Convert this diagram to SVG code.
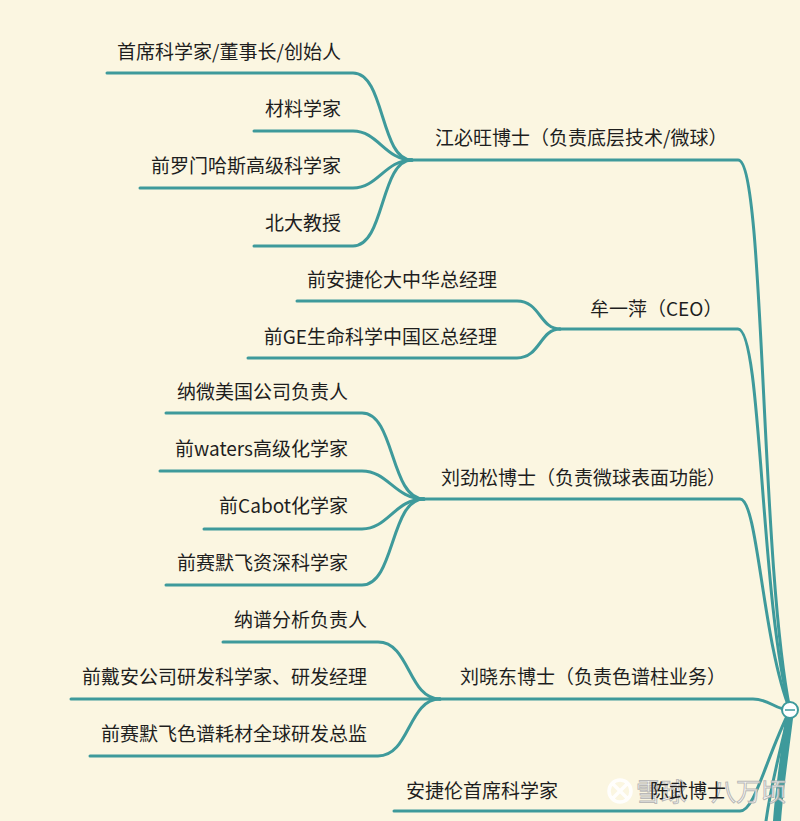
<svg xmlns="http://www.w3.org/2000/svg" width="800" height="821" viewBox="0 0 800 821">
<style>
  .bg{fill:#FBF6E1}
  .ln{fill:none;stroke:#3E9A9B;stroke-width:3;stroke-linecap:round}
  .t{font-family:"Noto Sans CJK SC","Noto Sans",sans-serif;font-size:19px;fill:#1e1e1e}
  .e{text-anchor:end}
  .wm{font-family:"Noto Sans CJK SC",sans-serif;font-size:25px;fill:#ffffff;fill-opacity:0.85;stroke:#a8a8a8;stroke-width:1;stroke-opacity:0.8}
</style>
<rect class="bg" x="0" y="0" width="800" height="821"/>
<g id="connectors">
  <path class="ln" d="M107,73 H353 C385,73 380,160 412,160"/>
  <path class="ln" d="M254,131 H353 C378,131 385,160 412,160"/>
  <path class="ln" d="M140,188 H353 C378,188 385,160 412,160"/>
  <path class="ln" d="M254,246 H353 C385,246 380,160 412,160"/>
  <path class="ln" d="M412,160 H738 C765,160 760,560 790,710"/>
  <path class="ln" d="M297,301 H517 C540,301 540,329 560,329"/>
  <path class="ln" d="M248,358 H517 C540,358 540,329 560,329"/>
  <path class="ln" d="M560,329 H738 C762,329 760,600 790,710"/>
  <path class="ln" d="M166,413 H362 C395,413 390,499 424,499"/>
  <path class="ln" d="M160,471 H362 C388,471 395,499 424,499"/>
  <path class="ln" d="M204,529 H362 C388,529 395,499 424,499"/>
  <path class="ln" d="M166,585 H362 C395,585 390,499 424,499"/>
  <path class="ln" d="M424,499 H740 C758,499 762,640 790,710"/>
  <path class="ln" d="M223,642 H378 C410,642 408,699 440,699"/>
  <path class="ln" d="M71,699 H440"/>
  <path class="ln" d="M90,756 H378 C410,756 408,699 440,699"/>
  <path class="ln" d="M440,699 H753 C770,699 775,710 790,710"/>
  <path class="ln" d="M394,811 H740 C755,811 765,760 790,710"/>
  <path class="ln" d="M790,710 C781,745 771,785 766,821"/>
  <path class="ln" style="stroke-width:8" d="M790,710 C786,745 779,790 777,821"/>
</g>
<g id="root">
  <circle cx="790" cy="710" r="8" fill="#ffffff" stroke="#3E9A9B" stroke-width="2"/>
  <line x1="785" y1="710" x2="795" y2="710" stroke="#3E9A9B" stroke-width="1.5"/>
</g>
<g id="n1"><text class="t" x="435" y="145">江必旺博士（负责底层技术/微球）</text></g>
<g id="n1a"><text class="t e" x="341" y="59">首席科学家/董事长/创始人</text></g>
<g id="n1b"><text class="t e" x="341" y="116">材料学家</text></g>
<g id="n1c"><text class="t e" x="341" y="173">前罗门哈斯高级科学家</text></g>
<g id="n1d"><text class="t e" x="341" y="230">北大教授</text></g>
<g id="n2"><text class="t" x="590" y="316">牟一萍（CEO）</text></g>
<g id="n2a"><text class="t e" x="497" y="287">前安捷伦大中华总经理</text></g>
<g id="n2b"><text class="t e" x="497" y="344">前GE生命科学中国区总经理</text></g>
<g id="n3"><text class="t" x="441" y="485">刘劲松博士（负责微球表面功能）</text></g>
<g id="n3a"><text class="t e" x="348" y="399">纳微美国公司负责人</text></g>
<g id="n3b"><text class="t e" x="348" y="456">前waters高级化学家</text></g>
<g id="n3c"><text class="t e" x="348" y="513">前Cabot化学家</text></g>
<g id="n3d"><text class="t e" x="348" y="570">前赛默飞资深科学家</text></g>
<g id="n4"><text class="t" x="460" y="684">刘晓东博士（负责色谱柱业务）</text></g>
<g id="n4a"><text class="t e" x="367" y="627">纳谱分析负责人</text></g>
<g id="n4b"><text class="t e" x="367" y="684">前戴安公司研发科学家、研发经理</text></g>
<g id="n4c"><text class="t e" x="367" y="741">前赛默飞色谱耗材全球研发总监</text></g>
<g id="n5a"><text class="t" x="406" y="798">安捷伦首席科学家</text></g>
<g id="watermark">
  <circle cx="620" cy="791" r="11" fill="none" stroke="#ffffff" stroke-opacity="0.9" stroke-width="3.5"/>
  <path d="M613,784 L627,798 M627,784 L613,798" fill="none" stroke="#ffffff" stroke-opacity="0.9" stroke-width="3.5"/>
  <text class="wm" x="636" y="801">雪球·八万顷</text>
</g>
<g id="n5"><text class="t" x="650" y="798">陈武博士</text></g>
</svg>
